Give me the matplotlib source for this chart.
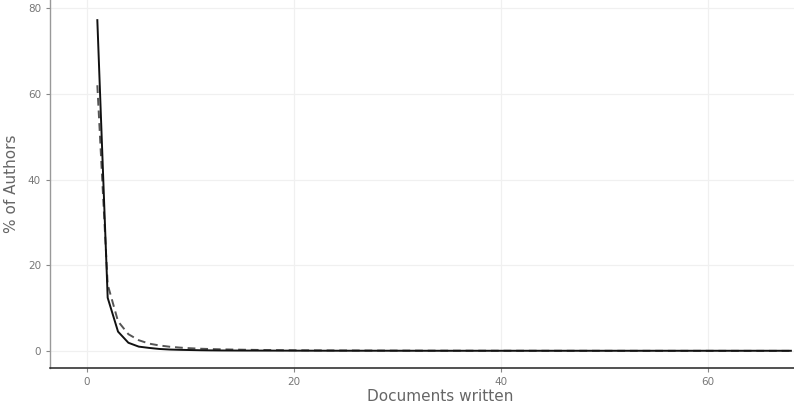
import matplotlib
matplotlib.use('Agg')
import matplotlib.pyplot as plt

# documents written per author (x) and share of authors (%)
docs_written = [1, 2, 3, 4, 5, 6, 7, 8, 9, 10, 11, 12, 13, 14, 15,
                17, 19, 21, 24, 28, 33, 40, 52, 68]
observed_pct = [77.2, 12.4, 4.5, 1.9, 1.0, 0.7, 0.45, 0.32, 0.25, 0.2,
                0.15, 0.12, 0.1, 0.09, 0.08, 0.07, 0.06, 0.05, 0.04,
                0.04, 0.03, 0.03, 0.03, 0.03]
lotka_pct = [62.0, 15.5, 6.9, 3.9, 2.5, 1.7, 1.27, 0.97, 0.77, 0.62,
             0.51, 0.43, 0.37, 0.32, 0.28, 0.21, 0.17, 0.14, 0.11,
             0.08, 0.06, 0.04, 0.02, 0.01]
x_ticks = [0, 20, 40, 60]
y_ticks = [0, 20, 40, 60, 80]

fig = plt.figure(figsize=(7.94, 4.04), dpi=100)
ax = fig.add_axes([0.063, 0.089, 0.937, 0.911])

ax.plot(docs_written, lotka_pct, color='#555555', linestyle=(0, (4, 2.5)),
        linewidth=1.4)
ax.plot(docs_written, observed_pct, color='#111111', linewidth=1.4)

ax.set_xlim(-3.57, 68.3)
ax.set_ylim(-4.0, 81.9)
ax.set_xticks(x_ticks)
ax.set_yticks(y_ticks)
ax.grid(True, color='#f0f0f0', linewidth=0.9)
ax.set_axisbelow(True)

for side in ['top', 'right']:
    ax.spines[side].set_visible(False)
ax.spines['left'].set_color('#999999')
ax.spines['bottom'].set_color('#222222')
ax.spines['left'].set_linewidth(1.0)
ax.spines['bottom'].set_linewidth(1.1)

ax.tick_params(axis='both', colors='#888888', labelsize=7.5, length=3,
               width=0.8, labelcolor='#777777')

# axis titles placed by hand so they sit like the ggplot original
fig.text(0.555, 0.018, 'Documents written', fontsize=11, color='#666666',
         ha='center', va='center')
fig.text(0.014, 0.545, '% of Authors', fontsize=11, color='#666666',
         ha='center', va='center', rotation=90)

fig.savefig('out.png', dpi=100)
